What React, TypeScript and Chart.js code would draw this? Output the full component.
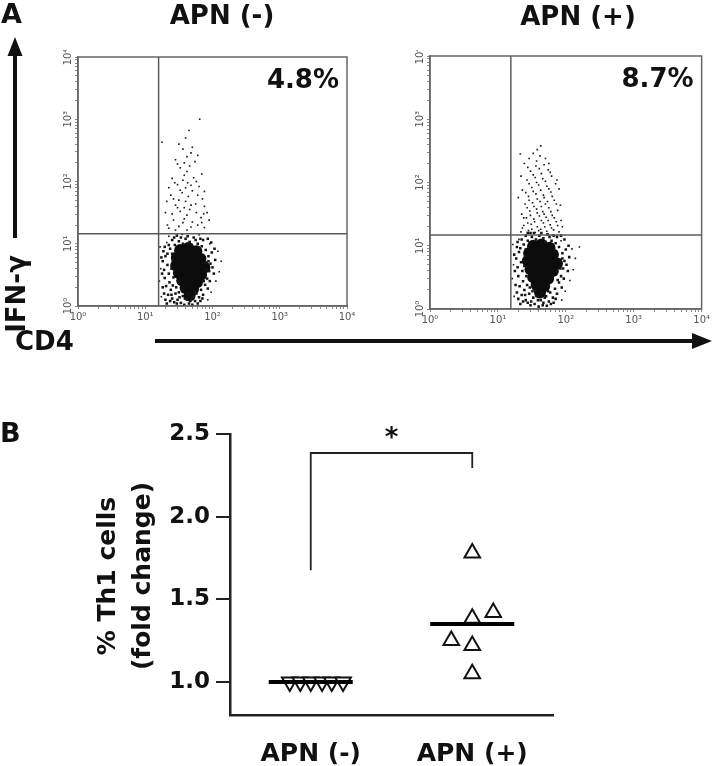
import React, { useEffect, useRef } from 'react';
import { Chart, registerables } from 'chart.js';
Chart.register(...registerables);

const FONT = '"DejaVu Sans", "Liberation Sans", sans-serif';

// ---------- Panel A (flow cytometry, values in log10 decades: [CD4, IFN-γ]) ----------
const DECADES = [0, 1, 2, 3, 4];
const SUPERSCRIPTS = ['⁰', '¹', '²', '³', '⁴'];
const PANEL_A_TITLES = ['APN (-)', 'APN (+)'];
const PANEL_A_PERCENT = ['4.8%', '8.7%'];
const GATE_CD4 = [15.8, 15.5];
const GATE_IFN = [14.5, 14.8];

const NEG_CORE = [
  [1.52, 0.90], [1.64, 0.93], [1.76, 0.88],
  [1.47, 0.78], [1.58, 0.80], [1.70, 0.79], [1.82, 0.76],
  [1.46, 0.65], [1.57, 0.67], [1.68, 0.66], [1.79, 0.64], [1.88, 0.62],
  [1.50, 0.53], [1.61, 0.54], [1.72, 0.52], [1.83, 0.50],
  [1.55, 0.41], [1.66, 0.40], [1.77, 0.38],
  [1.60, 0.29], [1.71, 0.27], [1.66, 0.17],
];
const NEG_MID = [
  [1.27, 0.88], [1.30, 0.80], [1.26, 0.72], [1.33, 0.66], [1.28, 0.58], [1.35, 0.52], [1.29, 0.45],
  [1.36, 0.38], [1.31, 0.32], [1.38, 0.26], [1.34, 0.18], [1.40, 0.12], [1.37, 0.92], [1.40, 0.84],
  [1.41, 0.74], [1.39, 0.60], [1.42, 0.46], [1.41, 0.33],
  [1.45, 0.20], [1.48, 0.10], [1.50, 0.22], [1.53, 0.05], [1.56, 0.16], [1.58, 0.02], [1.62, 0.10],
  [1.65, 0.04], [1.68, 0.12], [1.70, 0.02], [1.74, 0.08], [1.76, 0.20], [1.80, 0.14], [1.83, 0.26],
  [1.86, 0.18], [1.89, 0.34],
  [1.92, 0.44], [1.95, 0.56], [1.91, 0.70], [1.97, 0.68], [1.94, 0.80], [2.00, 0.62], [1.99, 0.86],
  [2.04, 0.74], [1.90, 0.90],
  [1.44, 0.98], [1.50, 1.04], [1.56, 1.00], [1.60, 1.08], [1.66, 1.03], [1.72, 1.10], [1.78, 1.00],
  [1.84, 0.96], [1.86, 1.06], [1.40, 1.06], [1.47, 1.13], [1.69, 0.98],
  [1.26, 0.30], [1.28, 0.20], [1.30, 0.10], [1.32, 0.04], [1.25, 0.52], [1.24, 0.78], [1.29, 0.95],
  [1.33, 0.84], [1.35, 0.98], [1.37, 0.08], [1.39, 0.18], [1.43, 0.06], [1.46, 0.30], [1.47, 0.04],
  [1.51, 0.14], [1.55, 0.26], [1.59, 0.12], [1.63, 0.20], [1.67, 0.08], [1.71, 0.15], [1.73, 0.22],
  [1.78, 0.04], [1.82, 0.08], [1.85, 0.12], [1.87, 0.40], [1.93, 0.28], [1.96, 0.40], [2.02, 0.52],
  [2.03, 0.92], [1.98, 1.02], [1.93, 1.08], [1.82, 1.08], [1.75, 1.06], [1.63, 1.12], [1.53, 1.10],
  [1.43, 1.10], [1.91, 0.58], [1.94, 0.72], [1.45, 0.88], [1.43, 0.58],
];
const NEG_SPARSE = [
  [1.22, 0.95], [1.21, 0.40], [1.24, 0.15], [1.32, 1.02], [1.35, 1.12], [1.55, 1.15], [1.80, 1.14],
  [1.96, 1.00], [2.08, 0.88], [2.10, 0.55], [2.05, 0.40], [1.98, 0.22], [2.13, 0.72], [1.93, 0.10],
  [1.23, 0.60],
  [1.35, 1.25], [1.50, 1.28], [1.62, 1.22], [1.78, 1.30], [1.88, 1.26], [1.42, 1.38], [1.58, 1.40],
  [1.70, 1.35], [1.83, 1.42], [1.30, 1.50], [1.52, 1.52], [1.66, 1.55], [1.92, 1.50], [1.45, 1.62],
  [1.60, 1.68], [1.75, 1.64], [1.85, 1.72], [1.38, 1.78], [1.55, 1.82], [1.70, 1.85], [1.48, 1.95],
  [1.63, 1.98], [1.80, 1.92], [1.40, 2.05], [1.58, 2.10], [1.72, 2.06], [1.52, 2.22], [1.66, 2.25],
  [1.45, 2.35], [1.62, 2.40], [1.56, 2.52], [1.70, 2.55], [1.25, 2.63], [1.65, 2.82], [1.81, 3.00],
  [1.95, 1.38], [1.32, 1.68], [1.88, 1.60], [1.50, 1.70], [1.76, 2.00], [1.35, 1.90],
  [1.33, 1.30], [1.45, 1.22], [1.56, 1.34], [1.68, 1.27], [1.84, 1.34], [1.40, 1.48], [1.62, 1.46],
  [1.76, 1.50], [1.87, 1.48], [1.48, 1.58], [1.68, 1.62], [1.58, 1.58], [1.42, 1.72], [1.64, 1.76],
  [1.78, 1.78], [1.52, 1.86], [1.88, 1.84], [1.60, 1.90], [1.44, 1.98], [1.68, 1.94], [1.56, 2.02],
  [1.84, 2.12], [1.62, 2.16], [1.48, 2.28], [1.74, 2.32], [1.58, 2.30], [1.68, 2.46], [1.50, 2.60],
  [1.78, 2.42], [1.60, 2.70],
];

const POS_CORE = [
  [1.52, 1.00], [1.64, 1.02], [1.76, 0.97],
  [1.46, 0.88], [1.57, 0.90], [1.69, 0.89], [1.81, 0.86],
  [1.44, 0.76], [1.55, 0.77], [1.66, 0.76], [1.77, 0.74], [1.87, 0.72],
  [1.48, 0.63], [1.59, 0.64], [1.70, 0.62], [1.81, 0.60],
  [1.52, 0.50], [1.63, 0.50], [1.74, 0.48],
  [1.57, 0.38], [1.68, 0.36], [1.62, 0.26],
];
const POS_MID = [
  [1.28, 0.98], [1.31, 0.90], [1.27, 0.80], [1.34, 0.74], [1.29, 0.66], [1.36, 0.60], [1.30, 0.52],
  [1.37, 0.44], [1.32, 0.36], [1.39, 0.30], [1.35, 0.22], [1.41, 0.14], [1.38, 1.02], [1.41, 0.94],
  [1.40, 0.84], [1.39, 0.68], [1.42, 0.52], [1.43, 0.38],
  [1.46, 0.24], [1.49, 0.12], [1.51, 0.28], [1.54, 0.08], [1.57, 0.20], [1.60, 0.04], [1.63, 0.14],
  [1.66, 0.06], [1.69, 0.18], [1.72, 0.05], [1.75, 0.12], [1.77, 0.26], [1.81, 0.18], [1.84, 0.32],
  [1.87, 0.24], [1.90, 0.42],
  [1.93, 0.52], [1.96, 0.64], [1.92, 0.78], [1.98, 0.76], [1.95, 0.88], [2.01, 0.70], [2.00, 0.94],
  [2.05, 0.82], [1.90, 0.98],
  [1.44, 1.08], [1.50, 1.14], [1.56, 1.10], [1.61, 1.16], [1.67, 1.12], [1.73, 1.18], [1.79, 1.08],
  [1.85, 1.04], [1.87, 1.14], [1.41, 1.16], [1.48, 1.20], [1.70, 1.06],
  [1.26, 0.38], [1.28, 0.26], [1.30, 0.16], [1.33, 0.08], [1.25, 0.60], [1.24, 0.86], [1.29, 1.06],
  [1.33, 0.96], [1.35, 1.10], [1.37, 0.12], [1.40, 0.22], [1.44, 0.10], [1.47, 0.34], [1.48, 0.06],
  [1.52, 0.18], [1.55, 0.30], [1.59, 0.14], [1.64, 0.24], [1.67, 0.10], [1.71, 0.20], [1.74, 0.28],
  [1.78, 0.08], [1.82, 0.10], [1.85, 0.16], [1.88, 0.46], [1.94, 0.34], [1.97, 0.48], [2.03, 0.60],
  [2.04, 1.00], [1.98, 1.10], [1.93, 1.16], [1.82, 1.16], [1.76, 1.14], [1.64, 1.20], [1.53, 1.20],
  [1.44, 1.20], [1.92, 0.64], [1.95, 0.80], [1.45, 0.98], [1.43, 0.66],
];
const POS_SPARSE = [
  [1.22, 1.02], [1.21, 0.48], [1.24, 0.20], [1.31, 1.10], [1.93, 1.08], [2.09, 0.95], [2.11, 0.62],
  [2.06, 0.45], [1.99, 0.28], [2.14, 0.80], [1.94, 0.14], [1.23, 0.70], [2.20, 0.98], [1.60, 0.02],
  [1.70, 0.00],
  [1.34, 1.22], [1.45, 1.24], [1.55, 1.21], [1.63, 1.26], [1.72, 1.23], [1.82, 1.25], [1.90, 1.22],
  [1.38, 1.32], [1.49, 1.34], [1.58, 1.30], [1.67, 1.36], [1.77, 1.33], [1.86, 1.38],
  [1.42, 1.44], [1.53, 1.42], [1.61, 1.47], [1.71, 1.45], [1.80, 1.48], [1.35, 1.50],
  [1.47, 1.55], [1.57, 1.58], [1.66, 1.54], [1.75, 1.60], [1.88, 1.56],
  [1.40, 1.66], [1.51, 1.68], [1.62, 1.70], [1.70, 1.66], [1.83, 1.72],
  [1.45, 1.78], [1.56, 1.82], [1.67, 1.80], [1.78, 1.85], [1.36, 1.88],
  [1.50, 1.92], [1.60, 1.96], [1.72, 1.94], [1.85, 1.98],
  [1.43, 2.04], [1.55, 2.08], [1.66, 2.06], [1.79, 2.10],
  [1.48, 2.18], [1.61, 2.22], [1.74, 2.20],
  [1.39, 2.30], [1.57, 2.34], [1.70, 2.38], [1.52, 2.46], [1.63, 2.58], [1.33, 2.45], [1.93, 1.40],
  [1.30, 1.76], [1.92, 1.64], [1.95, 1.30],
  [1.36, 1.28], [1.50, 1.26], [1.60, 1.24], [1.69, 1.30], [1.79, 1.28], [1.88, 1.32], [1.44, 1.36],
  [1.54, 1.38], [1.64, 1.40], [1.74, 1.40], [1.83, 1.44], [1.38, 1.44], [1.48, 1.48], [1.58, 1.52],
  [1.68, 1.50], [1.78, 1.54], [1.43, 1.60], [1.53, 1.62], [1.64, 1.62], [1.73, 1.70], [1.86, 1.66],
  [1.46, 1.72], [1.58, 1.74], [1.68, 1.76], [1.80, 1.78], [1.41, 1.84], [1.52, 1.86], [1.63, 1.88],
  [1.75, 1.90], [1.46, 1.98], [1.57, 2.00], [1.70, 2.02], [1.52, 2.12], [1.64, 2.14], [1.77, 2.16],
  [1.44, 2.24], [1.56, 2.26], [1.68, 2.28], [1.62, 2.42], [1.46, 2.38], [1.58, 2.52], [1.75, 2.30],
  [1.34, 2.10], [1.90, 1.90], [1.87, 2.04],
];

const PLOT_CORE = [NEG_CORE, POS_CORE];
const PLOT_MID = [NEG_MID, POS_MID];
const PLOT_SPARSE = [NEG_SPARSE, POS_SPARSE];

// ---------- Panel B ----------
const GROUPS = ['APN (-)', 'APN (+)'];
const APN_NEG_X = [0.87, 0.935, 1.0, 1.07, 1.13, 1.2];
const APN_NEG_Y = [1.0, 1.0, 1.0, 1.0, 1.0, 1.0];
const APN_POS_X = [2.0, 2.13, 2.0, 1.87, 2.0, 2.0];
const APN_POS_Y = [1.78, 1.42, 1.385, 1.25, 1.22, 1.05];
const B_Y_TICKS = [1.0, 1.5, 2.0, 2.5];
const BRACKET_Y = [1.675, 2.385, 2.295];
const SIG_LABEL = '*';
const SIG_Y = 2.49;

const decadeLabel = (k: number) => '10' + SUPERSCRIPTS[k];
const toXY = (arr: number[][]) => arr.map(([a, b]) => ({ x: Math.pow(10, a), y: Math.pow(10, b) }));
const mean = (a: number[]) => a.reduce((s, v) => s + v, 0) / a.length;

const logTicks = (s: any) => {
  const t: any[] = [];
  for (let e = 0; e < 4; e++) for (let m = 1; m < 10; m++) t.push({ value: m * Math.pow(10, e), major: m === 1 });
  t.push({ value: 10000, major: true });
  s.ticks = t;
};

function DotPlot({ idx, left, top, width, height, padTop, padRight, axisW, axisH }: any) {
  const ref = useRef<HTMLCanvasElement>(null);
  useEffect(() => {
    const gx = GATE_CD4[idx];
    const gy = GATE_IFN[idx];
    const frame = {
      id: 'frame' + idx,
      afterDraw(chart: any) {
        const { ctx, chartArea: ca } = chart;
        ctx.save();
        ctx.strokeStyle = '#666';
        ctx.lineWidth = 1.5;
        ctx.strokeRect(ca.left, ca.top, ca.right - ca.left, ca.bottom - ca.top);
        ctx.font = `10px ${FONT}`;
        ctx.fillStyle = '#555';
        ctx.textAlign = 'center';
        ctx.textBaseline = 'middle';
        const ys = chart.scales.y;
        DECADES.forEach((k) => {
          const py = ys.getPixelForValue(Math.pow(10, k));
          ctx.save();
          ctx.translate(ca.left - 10, py);
          ctx.rotate(-Math.PI / 2);
          ctx.fillText(decadeLabel(k), 0, 0);
          ctx.restore();
        });
        ctx.font = `bold 26px ${FONT}`;
        ctx.fillStyle = '#111';
        ctx.textAlign = 'right';
        ctx.textBaseline = 'alphabetic';
        ctx.fillText(PANEL_A_PERCENT[idx], ca.right - 8, ca.top + 31);
        ctx.restore();
      },
    };
    const axisCommon = {
      type: 'logarithmic',
      min: 1,
      max: 10000,
      afterBuildTicks: logTicks,
      grid: { drawOnChartArea: false, drawTicks: true, tickLength: 3, color: '#888', lineWidth: 1 },
      border: { display: true, color: '#666', width: 1.5 },
    };
    const chart = new Chart(ref.current as any, {
      type: 'scatter',
      data: {
        datasets: [
          { data: [{ x: gx, y: 1 }, { x: gx, y: 10000 }], showLine: true, pointRadius: 0, borderColor: '#5a5a5a', borderWidth: 1.5 },
          { data: [{ x: 1, y: gy }, { x: 10000, y: gy }], showLine: true, pointRadius: 0, borderColor: '#5a5a5a', borderWidth: 1.5 },
          { data: toXY(PLOT_SPARSE[idx]), pointStyle: 'rect', pointRadius: 1.15, backgroundColor: '#1a1a1a', borderWidth: 0 },
          { data: toXY(PLOT_MID[idx]), pointStyle: 'rect', pointRadius: 1.8, backgroundColor: '#151515', borderWidth: 0 },
          { data: toXY(PLOT_CORE[idx]), pointStyle: 'circle', pointRadius: 6, backgroundColor: '#0c0c0c', borderWidth: 0 },
        ] as any,
      },
      options: {
        animation: false,
        responsive: false,
        devicePixelRatio: 1,
        events: [],
        layout: { padding: { top: padTop, right: padRight, left: 0, bottom: 0 } },
        plugins: { legend: { display: false }, tooltip: { enabled: false } },
        scales: {
          x: {
            ...axisCommon,
            afterFit: (s: any) => { s.height = axisH; },
            ticks: {
              autoSkip: false, maxRotation: 0, minRotation: 0, padding: 2, color: '#555',
              font: { family: FONT, size: 10 },
              callback: (v: any) => {
                const l = Math.log10(v);
                const r = Math.round(l);
                return Math.abs(l - r) < 1e-9 ? decadeLabel(r) : '';
              },
            },
          },
          y: {
            ...axisCommon,
            afterFit: (s: any) => { s.width = axisW; },
            ticks: { display: false },
          },
        } as any,
      },
      plugins: [frame],
    });
    return () => chart.destroy();
  }, []);
  return <canvas ref={ref} width={width} height={height} style={{ position: 'absolute', left, top }} />;
}

function ScatterB() {
  const ref = useRef<HTMLCanvasElement>(null);
  useEffect(() => {
    const negMean = mean(APN_NEG_Y);
    const posMean = mean(APN_POS_Y);
    const star = {
      id: 'star',
      afterDraw(chart: any) {
        const { ctx, scales } = chart;
        ctx.save();
        ctx.font = `bold 26px ${FONT}`;
        ctx.fillStyle = '#111';
        ctx.textAlign = 'center';
        ctx.textBaseline = 'middle';
        ctx.fillText(SIG_LABEL, scales.x.getPixelForValue(1.5), scales.y.getPixelForValue(SIG_Y) + 4);
        ctx.restore();
      },
    };
    const chart = new Chart(ref.current as any, {
      type: 'scatter',
      data: {
        datasets: [
          { data: [{ x: 0.74, y: negMean }, { x: 1.26, y: negMean }], showLine: true, pointRadius: 0, borderColor: '#000', borderWidth: 4 },
          { data: [{ x: 1.74, y: posMean }, { x: 2.26, y: posMean }], showLine: true, pointRadius: 0, borderColor: '#000', borderWidth: 4 },
          {
            data: [{ x: 1, y: BRACKET_Y[0] }, { x: 1, y: BRACKET_Y[1] }, { x: 2, y: BRACKET_Y[1] }, { x: 2, y: BRACKET_Y[2] }],
            showLine: true, pointRadius: 0, borderColor: '#222', borderWidth: 1.8, tension: 0,
          },
          {
            data: APN_NEG_X.map((x, i) => ({ x, y: APN_NEG_Y[i] })),
            pointStyle: 'triangle', rotation: 180, pointRadius: 9, backgroundColor: '#fff', borderColor: '#111', borderWidth: 2,
          },
          {
            data: APN_POS_X.map((x, i) => ({ x, y: APN_POS_Y[i] })),
            pointStyle: 'triangle', pointRadius: 9, backgroundColor: '#fff', borderColor: '#111', borderWidth: 2,
          },
        ] as any,
      },
      options: {
        animation: false,
        responsive: false,
        devicePixelRatio: 1,
        events: [],
        layout: { padding: { top: 34, right: 27, left: 0, bottom: 0 } },
        plugins: { legend: { display: false }, tooltip: { enabled: false } },
        scales: {
          x: {
            type: 'linear', min: 0.5, max: 2.5,
            afterBuildTicks: (s: any) => { s.ticks = GROUPS.map((_, i) => ({ value: i + 1 })); },
            afterFit: (s: any) => { s.height = 51; },
            grid: { display: false },
            border: { display: true, color: '#222', width: 2.5 },
            ticks: {
              autoSkip: false, maxRotation: 0, minRotation: 0, padding: 16, color: '#111',
              font: { family: FONT, size: 25, weight: 'bold' },
              callback: (v: any) => GROUPS[Math.round(v) - 1],
            },
          },
          y: {
            type: 'linear', min: 0.8, max: 2.5,
            afterBuildTicks: (s: any) => { s.ticks = B_Y_TICKS.map((v) => ({ value: v })); },
            afterFit: (s: any) => { s.width = 110; },
            grid: { drawOnChartArea: false, drawTicks: true, tickLength: 14, color: '#222', lineWidth: 2 },
            border: { display: true, color: '#222', width: 2.5 },
            ticks: {
              padding: 6, color: '#111',
              font: { family: FONT, size: 23, weight: 'bold' },
              callback: (v: any) => Number(v).toFixed(1),
            },
          },
        } as any,
      },
      plugins: [star],
    });
    return () => chart.destroy();
  }, []);
  return <canvas ref={ref} width={460} height={366} style={{ position: 'absolute', left: 120, top: 400 }} />;
}

export default function App() {
  const textStyle: any = { fontFamily: FONT, fontWeight: 'bold', fill: '#111' };
  return (
    <div style={{ position: 'absolute', left: 0, top: 0, width: 720, height: 766, background: '#fff', overflow: 'hidden' }}>
      <DotPlot idx={0} left={40} top={50} width={320} height={280} padTop={7} padRight={13} axisW={38} axisH={24} />
      <DotPlot idx={1} left={392} top={50} width={320} height={280} padTop={6} padRight={10} axisW={38} axisH={21} />
      <ScatterB />
      <svg width={720} height={766} style={{ position: 'absolute', left: 0, top: 0, pointerEvents: 'none' }}>
        <text x={1} y={23} fontSize={27} style={textStyle}>A</text>
        <text x={222} y={24} fontSize={26} textAnchor="middle" style={textStyle}>{PANEL_A_TITLES[0]}</text>
        <text x={578} y={25} fontSize={26} textAnchor="middle" style={textStyle}>{PANEL_A_TITLES[1]}</text>
        <line x1={15} y1={238} x2={15} y2={52} stroke="#111" strokeWidth={4} />
        <polygon points="15,37 7.5,56 22.5,56" fill="#111" />
        <text transform="translate(25,294) rotate(-90)" x={0} y={0} fontSize={26} textAnchor="middle" style={textStyle}>IFN-γ</text>
        <text x={15} y={350} fontSize={26} style={textStyle}>CD4</text>
        <line x1={155} y1={341} x2={694} y2={341} stroke="#111" strokeWidth={4} />
        <polygon points="712,341 692,333 692,349" fill="#111" />
        <text x={0} y={442} fontSize={27} style={textStyle}>B</text>
        <text transform="translate(115,576) rotate(-90)" x={0} y={0} fontSize={25} textAnchor="middle" style={textStyle}>% Th1 cells</text>
        <text transform="translate(150,576) rotate(-90)" x={0} y={0} fontSize={25} textAnchor="middle" style={textStyle}>(fold change)</text>
      </svg>
    </div>
  );
}
